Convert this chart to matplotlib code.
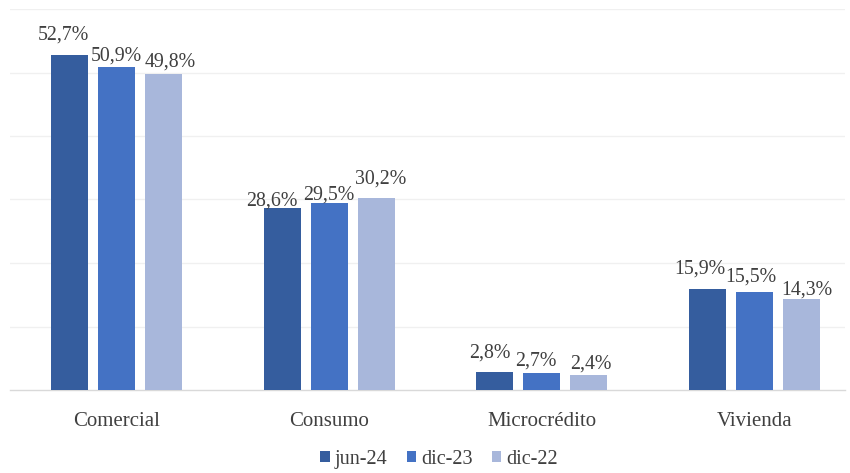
import numpy as np
import matplotlib
matplotlib.use('Agg')
import matplotlib.pyplot as plt
from matplotlib.patches import Patch

# ── data ──────────────────────────────────────────────────────────────────────
categories = ['Comercial', 'Consumo', 'Microcrédito', 'Vivienda']
series = ['jun-24', 'dic-23', 'dic-22']
jun24 = [52.7, 28.6, 2.8, 15.9]
dic23 = [50.9, 29.5, 2.7, 15.5]
dic22 = [49.8, 30.2, 2.4, 14.3]
values = [jun24, dic23, dic22]

# label nudges (pixels): horizontal shift, baseline height above the bar top
LABEL_DX = [[-6, -10, -5, -8], [0, 0, -6, -4], [7, 5, 1.5, 5]]
LABEL_DY = [[16, 2.5, 15, 15.5], [6, 3, 7, 10], [7, 15, 6, 5]]

COLORS = ['#355D9E', '#4472C4', '#A8B7DB']
TEXT = '#404040'

plt.rcParams['font.family'] = ['Liberation Serif', 'DejaVu Serif']

fig = plt.figure(figsize=(8.5, 4.73), dpi=100)
ax = fig.add_axes([10 / 850, 83 / 473, 835 / 850, 381 / 473])

x = np.arange(len(categories))
width = 0.174
step = 0.221

for i, (vals, col) in enumerate(zip(values, COLORS)):
    pos = x + (i - 1) * step
    ax.bar(pos, vals, width=width, color=col, zorder=3, label=series[i])
    for j, (p, v) in enumerate(zip(pos, vals)):
        ax.annotate(f'{v:.1f}%'.replace('.', ','), xy=(p, v),
                    xytext=(LABEL_DX[i][j], LABEL_DY[i][j]),
                    textcoords='offset pixels', ha='center', va='baseline',
                    fontsize=14.3, color=TEXT, zorder=4)

ax.set_xlim(-0.5, 3.425)
ax.set_ylim(0, 60)
ax.set_yticks(np.arange(10, 61, 10))
ax.yaxis.grid(True, color='#F0F0F0', lw=1.0, zorder=0)
ax.tick_params(axis='y', length=0, labelleft=False)
ax.set_xticks(x)
ax.set_xticklabels(categories, fontsize=15, color=TEXT)
ax.tick_params(axis='x', length=0, pad=16)
for s in ['top', 'right', 'left']:
    ax.spines[s].set_visible(False)
ax.spines['bottom'].set_color('#D9D9D9')
ax.spines['bottom'].set_linewidth(1.0)

handles = [Patch(facecolor=c, label=s) for c, s in zip(COLORS, series)]
fig.legend(handles=handles, loc='center',
           bbox_to_anchor=(439 / 850, 1 - 459 / 473),
           ncol=3, frameon=False, fontsize=14.5, handlelength=0.47,
           handleheight=0.5, handletextpad=0.25, columnspacing=0.95,
           labelcolor=TEXT, borderpad=0)

fig.savefig('out.png', dpi=100)
